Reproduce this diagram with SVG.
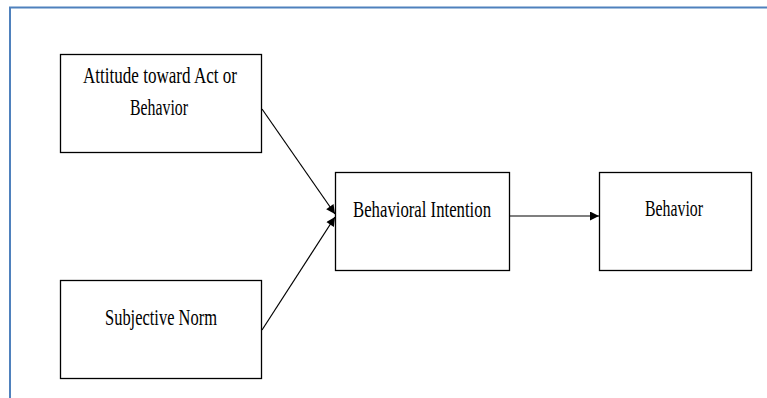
<svg xmlns="http://www.w3.org/2000/svg" width="767" height="398" viewBox="0 0 767 398">
<style>
.box{fill:#ffffff;stroke:#000000;stroke-width:1.3}
.lbl{font-family:'Liberation Serif','Times New Roman',serif;font-size:23px;fill:#000000;text-anchor:middle}
.edge{stroke:#000000;stroke-width:1.2;fill:none}
.frame{stroke:#4f81bd;stroke-width:2;fill:none}
</style>
<defs>
<marker id="arr" viewBox="0 0 10 10" refX="10" refY="5" markerWidth="10" markerHeight="9" markerUnits="userSpaceOnUse" orient="auto">
<path d="M0,0 L10,5 L0,10 z" fill="#000000"/>
</marker>
</defs>
<rect width="767" height="398" fill="#ffffff"/>
<path class="frame" d="M10,398 L10,7.5 L767,7.5"/>
<g id="connectors">
<line class="edge" x1="262" y1="109" x2="335" y2="214" marker-end="url(#arr)"/>
<line class="edge" x1="262" y1="330" x2="335" y2="217" marker-end="url(#arr)"/>
<line class="edge" x1="509" y1="216" x2="599" y2="216" stroke-width="1.8" marker-end="url(#arr)"/>
</g>
<g id="attitude">
<rect class="box" x="60.5" y="54.5" width="201" height="98"/>
<text class="lbl" x="160" y="83" textLength="154" lengthAdjust="spacingAndGlyphs">Attitude toward Act or</text>
<text class="lbl" x="159" y="115" textLength="58" lengthAdjust="spacingAndGlyphs">Behavior</text>
</g>
<g id="subjective-norm">
<rect class="box" x="60.5" y="280.5" width="201" height="98"/>
<text class="lbl" x="161" y="325" textLength="112" lengthAdjust="spacingAndGlyphs">Subjective Norm</text>
</g>
<g id="intention">
<rect class="box" x="335.5" y="172.5" width="174" height="98"/>
<text class="lbl" x="422" y="217" textLength="138" lengthAdjust="spacingAndGlyphs">Behavioral Intention</text>
</g>
<g id="behavior">
<rect class="box" x="599.5" y="172.5" width="152" height="98"/>
<text class="lbl" x="674" y="216" textLength="58" lengthAdjust="spacingAndGlyphs">Behavior</text>
</g>
</svg>
